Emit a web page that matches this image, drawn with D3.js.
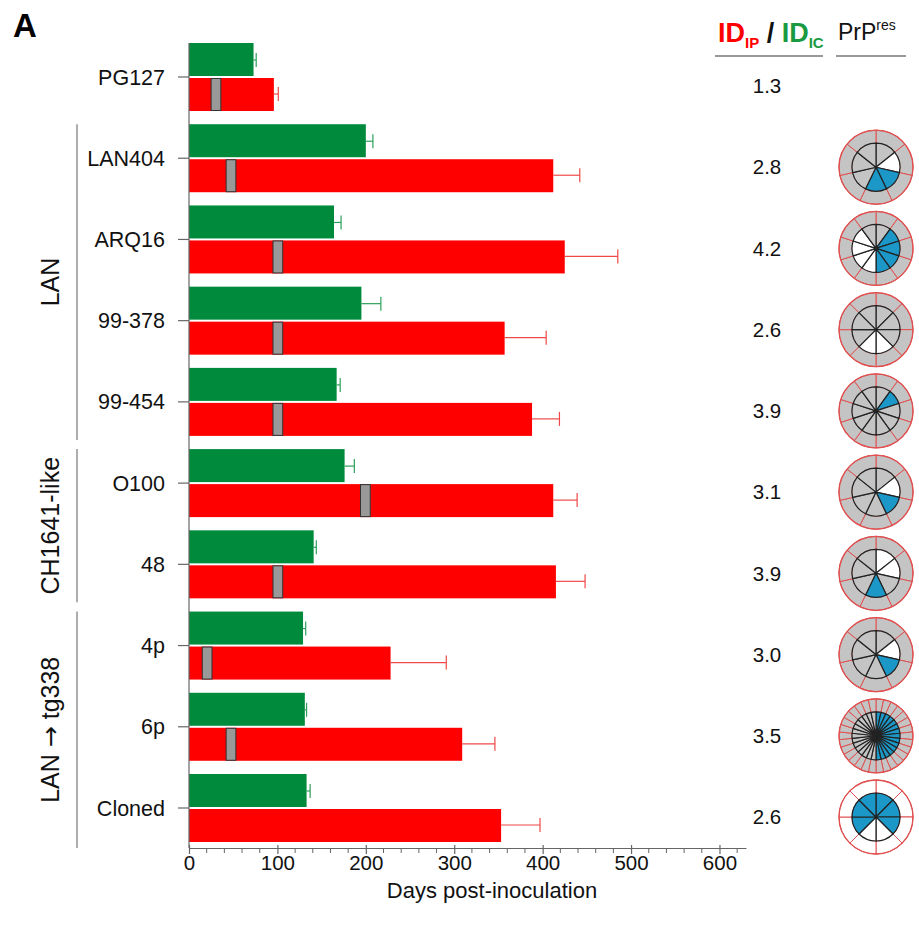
<!DOCTYPE html>
<html>
<head>
<meta charset="utf-8">
<script src="https://cdn.jsdelivr.net/npm/d3@7"></script>
<style>
  body { margin: 0; background: #fff; }
  text { font-family: "Liberation Sans", Arial, sans-serif; }
</style>
</head>
<body>
<div id="viz"></div>
<script>
// data
const strains = ["PG127", "LAN404", "ARQ16", "99-378", "99-454", "O100", "48", "4p", "6p", "Cloned"];
const icDays = [73, 200, 164, 195, 167, 176, 141, 129, 131, 133];      // green
const icErr  = [3, 8, 8, 22, 4, 11, 3, 3, 2, 4];
const ipDays = [96, 412, 425, 357, 388, 412, 415, 228, 309, 353];      // red
const ipErr  = [5, 30, 60, 47, 31, 27, 33, 63, 37, 44];
const grayStart = [25, 42, 95, 95, 95, 194, 95, 15, 42, null];
const grayEnd   = [36, 53, 106, 106, 106, 205, 106, 26, 53, null];
const ratios = ["1.3", "2.8", "4.2", "2.6", "3.9", "3.1", "3.9", "3.0", "3.5", "2.6"];
// PrPres pies: one letter per animal, g = gray, w = white, b = blue
const pies = [
  null,
  "gwbbggg",
  "gbbbbwwwwg",
  "gggwwggg",
  "gbgggggggg",
  "gwbgggg",
  "wwgbggg",
  "gwbgggg",
  "bbbbbbbbbbbbbbbggggggggggggggg",
  "bbbwwbbb"
];
const ringWhite = [false, false, false, false, false, false, false, false, false, true];
const groups = [
  {name: ["LAN"], from: "LAN404", to: "99-454"},
  {name: ["CH1641-like"], from: "O100", to: "48"},
  {name: ["LAN ", "\u2192", " tg338"], from: "4p", to: "Cloned"}
];
const xTicks = [0, 100, 200, 300, 400, 500, 600];

const W = 919, H = 926;
const svg = d3.select("#viz").append("svg")
    .attr("width", W)
    .attr("height", H);

const x = d3.scaleLinear().domain([0, 630]).range([189, 746]);
const y = d3.scalePoint().domain(strains).range([77, 808]);
const axisY = 848;

const pieColor = {g: "#c4c4c4", w: "#ffffff", b: "#1c98c8"};

// panel letter
svg.append("text")
    .attr("x", 13).attr("y", 37)
    .attr("font-size", 33).attr("font-weight", "bold")
    .text("A");

// bars
const rows = strains.map((s, i) => ({s, i}));

const g = svg.append("g");

g.selectAll(".ic").data(rows).enter().append("rect")
    .attr("x", x(0))
    .attr("y", d => y(d.s) - 34)
    .attr("width", d => x(icDays[d.i]) - x(0))
    .attr("height", 33)
    .attr("fill", "#008a3c");

g.selectAll(".ip").data(rows).enter().append("rect")
    .attr("x", x(0))
    .attr("y", d => y(d.s) + 1)
    .attr("width", d => x(ipDays[d.i]) - x(0))
    .attr("height", 33)
    .attr("fill", "#ff0000");

// error bars
function errBar(cls, vals, errs, dy, color) {
  const eb = g.selectAll("." + cls).data(rows).enter().append("g")
      .attr("stroke", color).attr("stroke-width", 1.2);
  eb.append("line")
      .attr("x1", d => x(vals[d.i])).attr("x2", d => x(vals[d.i] + errs[d.i]))
      .attr("y1", d => y(d.s) + dy).attr("y2", d => y(d.s) + dy);
  eb.append("line")
      .attr("x1", d => x(vals[d.i] + errs[d.i])).attr("x2", d => x(vals[d.i] + errs[d.i]))
      .attr("y1", d => y(d.s) + dy - 7).attr("y2", d => y(d.s) + dy + 7);
}
errBar("ice", icDays, icErr, -17, "#2ca05a");
errBar("ipe", ipDays, ipErr, 17, "#f04848");

// gray markers
g.selectAll(".gm").data(rows.filter(d => grayStart[d.i] != null)).enter().append("rect")
    .attr("x", d => x(grayStart[d.i]))
    .attr("y", d => y(d.s) + 1.5)
    .attr("width", d => x(grayEnd[d.i]) - x(grayStart[d.i]))
    .attr("height", 32)
    .attr("fill", "#999")
    .attr("stroke", "#333")
    .attr("stroke-width", 1);

// y axis
svg.append("line")
    .attr("x1", x(0)).attr("x2", x(0))
    .attr("y1", 43).attr("y2", axisY)
    .attr("stroke", "#666").attr("stroke-width", 1.2);
svg.selectAll(".ytick").data(strains).enter().append("line")
    .attr("x1", x(0) - 11).attr("x2", x(0))
    .attr("y1", d => y(d)).attr("y2", d => y(d))
    .attr("stroke", "#666").attr("stroke-width", 1.2);
svg.selectAll(".ylab").data(strains).enter().append("text")
    .attr("x", 165).attr("y", d => y(d))
    .attr("dy", "0.35em")
    .attr("text-anchor", "end")
    .attr("font-size", 21.5)
    .attr("fill", "#111")
    .text(d => d);

// x axis
const xAxis = d3.axisBottom(x)
    .tickValues(xTicks)
    .tickSize(6)
    .tickPadding(1)
    .tickSizeOuter(0);
const xg = svg.append("g")
    .attr("transform", "translate(0," + axisY + ")")
    .call(xAxis);
xg.select(".domain").attr("stroke", "#666").attr("stroke-width", 1.2);
xg.selectAll(".tick line").attr("stroke", "#666").attr("stroke-width", 1.2).attr("y1", -3);
xg.selectAll(".tick text").attr("font-size", 20.5).attr("fill", "#111")
    .style("font-family", "'Liberation Sans', Arial, sans-serif");
xg.selectAll(".minor").data(d3.range(20, 630, 20).filter(v => v % 100 !== 0)).enter()
    .append("line")
    .attr("x1", d => x(d)).attr("x2", d => x(d))
    .attr("y1", 0).attr("y2", 5)
    .attr("stroke", "#666").attr("stroke-width", 1);

svg.append("text")
    .attr("x", 492).attr("y", 898)
    .attr("text-anchor", "middle")
    .attr("font-size", 22)
    .attr("fill", "#111")
    .text("Days post-inoculation");

// group brackets
groups.forEach(gr => {
  const y0 = y(gr.from) - 34, y1 = gr.to === "Cloned" ? axisY : y(gr.to) + 38;
  svg.append("line")
      .attr("x1", 77).attr("x2", 77)
      .attr("y1", y0).attr("y2", y1)
      .attr("stroke", "#777").attr("stroke-width", 1.2);
  const t = svg.append("text")
      .attr("transform", "translate(59," + ((y0 + y1) / 2) + ") rotate(-90)")
      .attr("text-anchor", "middle")
      .attr("font-size", 25)
      .attr("fill", "#111");
  gr.name.forEach(part => {
    const sp = t.append("tspan").text(part);
    if (part === "\u2192") sp.style("font-family", "'DejaVu Sans', sans-serif");
  });
});

// header
const hdr = svg.append("text").attr("x", 718).attr("y", 42).attr("font-weight", "bold");
hdr.append("tspan").attr("fill", "#ff0000").attr("font-size", 27).text("ID");
hdr.append("tspan").attr("fill", "#ff0000").attr("font-size", 15).attr("dy", 6).text("IP");
hdr.append("tspan").attr("fill", "#111").attr("font-size", 27).attr("dy", -6).text(" / ");
hdr.append("tspan").attr("fill", "#1a9a40").attr("font-size", 27).text("ID");
hdr.append("tspan").attr("fill", "#1a9a40").attr("font-size", 15).attr("dy", 6).text("IC");

const prp = svg.append("text").attr("x", 838).attr("y", 40).attr("fill", "#111");
prp.append("tspan").attr("font-size", 23).text("PrP");
prp.append("tspan").attr("font-size", 14).attr("dy", -10).text("res");

svg.append("line").attr("x1", 715).attr("x2", 823).attr("y1", 56).attr("y2", 56)
    .attr("stroke", "#999").attr("stroke-width", 2);
svg.append("line").attr("x1", 836).attr("x2", 906).attr("y1", 56).attr("y2", 56)
    .attr("stroke", "#999").attr("stroke-width", 2);

// ratio column
svg.selectAll(".ratio").data(rows).enter().append("text")
    .attr("x", 767).attr("y", d => y(d.s) + 9)
    .attr("dy", "0.35em")
    .attr("text-anchor", "middle")
    .attr("font-size", 20.5)
    .attr("fill", "#111")
    .text(d => ratios[d.i]);

// PrPres pies
const rIn = 24, rOut = 37;
const pieGen = d3.pie().value(1).sort(null);
const arcIn = d3.arc().innerRadius(0).outerRadius(rIn);
const arcOut = d3.arc().innerRadius(rIn).outerRadius(rOut);

rows.filter(d => pies[d.i]).forEach(d => {
  const segs = pies[d.i].split("");
  const pg = svg.append("g")
      .attr("transform", "translate(876," + (y(d.s) + 9) + ")");
  const arcs = pieGen(segs);
  pg.selectAll(".ring").data(arcs).enter().append("path")
      .attr("d", arcOut)
      .attr("fill", ringWhite[d.i] ? "#fff" : "#c4c4c4")
      .attr("stroke", "#e05050").attr("stroke-width", 1);
  pg.append("circle").attr("r", rOut).attr("fill", "none")
      .attr("stroke", "#e05050").attr("stroke-width", 1.3);
  pg.selectAll(".wedge").data(arcs).enter().append("path")
      .attr("d", arcIn)
      .attr("fill", a => pieColor[a.data])
      .attr("stroke", "#222").attr("stroke-width", 1.2)
      .attr("stroke-linejoin", "round");
});
</script>
</body>
</html>
